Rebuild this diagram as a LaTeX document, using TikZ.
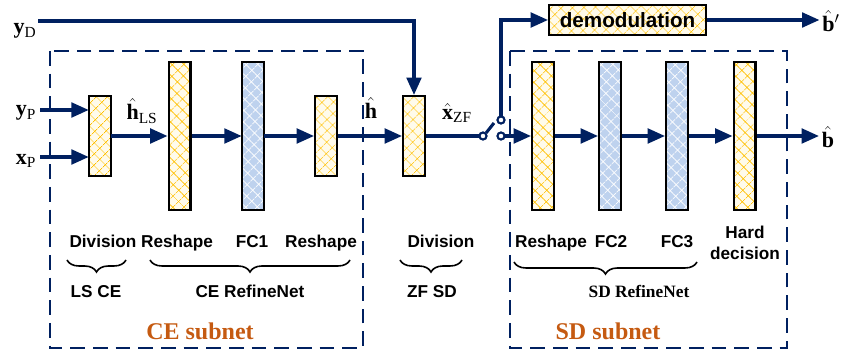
\documentclass[tikz,border=0pt]{standalone}
\usepackage{amsmath}
\usepackage{fontspec}
\setmainfont{Liberation Serif}
\setsansfont{Liberation Sans}
\usetikzlibrary{arrows.meta, patterns.meta, decorations.pathreplacing, positioning}
\definecolor{navy}{RGB}{0,32,96}
\definecolor{subnetorange}{RGB}{197,90,17}
\definecolor{yhatch}{RGB}{255,192,0}
\definecolor{yback}{RGB}{255,251,235}
\definecolor{bback}{RGB}{190,210,238}
\tikzset{
>={Triangle[length=13pt,width=11pt]}, % big filled arrow heads
wire/.style={draw=navy, line width=2.3pt}, % plain connector
link/.style={wire, ->}, % connector with arrow
layer/.style={draw=black, line width=1.6pt, minimum width=16.4pt, inner sep=0pt}, % one network layer
ylayer/.style={layer, preaction={fill=yback}, pattern={Hatch[angle=45,distance=6.5pt,line width=0.5pt]}, pattern color=yhatch},
blayer/.style={layer, preaction={fill=bback}, pattern={Hatch[angle=45,distance=6.5pt,line width=0.6pt]}, pattern color=white},
tall/.style={minimum height=111.6pt}, % long layers
short/.style={minimum height=60pt}, % short layers
pin/.style={circle, draw=navy, line width=1.5pt, fill=white, minimum size=5.2pt, inner sep=0pt}, % switch contacts
subnet/.style={draw=navy, line width=1.5pt, dash pattern=on 11pt off 6pt}, % dashed frames
lbl/.style={font=\fontsize{12.9}{15.5}\selectfont\sffamily\bfseries, inner sep=0pt},
mlbl/.style={font=\fontsize{16.5}{18}\selectfont, inner sep=0pt},
brc/.style={draw=black, line width=1.2pt, decorate, decoration={brace, mirror, amplitude=9pt}},
}

\begin{document}
\begin{tikzpicture}[x=0.75pt, y=-0.75pt]
    \useasboundingbox (0,0) rectangle (844,352);

    % subnet frames
    \draw[subnet] (50,51) rectangle (363,348);
    \draw[subnet] (510,51) rectangle (787,348);

    % layers
    \node[ylayer, short] (lsdiv) at (100,136) {};
    \node[ylayer, tall] (res1) at (179.5,136) {};
    \node[blayer, tall] (fc1) at (253,136) {};
    \node[ylayer, short] (res2) at (326,136) {};
    \node[ylayer, short] (zfdiv) at (414,136) {};
    \node[ylayer, tall] (sdres) at (543,136) {};
    \node[blayer, tall] (fc2) at (610,136) {};
    \node[blayer, tall] (fc3) at (677,136) {};
    \node[ylayer, tall] (hard) at (744.5,136) {};
    \node[ylayer, minimum width=117.6pt, minimum height=22.4pt, font=\fontsize{15.5}{18}\selectfont\sffamily\bfseries] (demod) at (627.5,20) {demodulation};

    % signal labels
    \node[mlbl] (ydlbl) at (25,31) {$\mathbf{y}_{\mathrm{D}}$};
    \node[mlbl] (yplbl) at (26,113) {$\mathbf{y}_{\mathrm{P}}$};
    \node[mlbl] (xplbl) at (26,161) {$\mathbf{x}_{\mathrm{P}}$};
    \node[mlbl] (hlslbl) at (142,111) {$\hat{\mathbf{h}}_{\mathrm{LS}}$};
    \node[mlbl] (hlbl) at (371,108) {$\hat{\mathbf{h}}$};
    \node[mlbl] (xzflbl) at (457,113) {$\hat{\mathbf{x}}_{\mathrm{ZF}}$};
    \node[mlbl, inner sep=2pt] (bplbl) at (831,21) {$\hat{\mathbf{b}}'$};
    \node[mlbl, inner sep=2pt] (blbl) at (828,137) {$\hat{\mathbf{b}}$};

    \coordinate (yd) at (38,21);
    \coordinate (yp) at (40,110);
    \coordinate (xp) at (40,157);
    \coordinate (blade) at (494,123);

    % switch contacts
    \node[pin] (swa) at (483,136) {};
    \node[pin] (swb) at (501,120) {};
    \node[pin] (swc) at (501,136) {};

    \draw[link] (yd) -| (zfdiv.north);
    \draw[link] (yp) -- (lsdiv.west |- yp);
    \draw[link] (xp) -- (lsdiv.west |- xp);
    \draw[link] (lsdiv) -- (res1);
    \draw[link] (res1) -- (fc1);
    \draw[link] (fc1) -- (res2);
    \draw[link] (res2) -- (zfdiv);
    \draw[wire] (zfdiv) -- (swa);
    \draw[wire] (swa.north east) -- (blade);
    \draw[link] (swb.north) |- (demod.west);
    \draw[link] (swc) -- (sdres);
    \draw[link] (sdres) -- (fc2);
    \draw[link] (fc2) -- (fc3);
    \draw[link] (fc3) -- (hard);
    \draw[link] (demod) -- (demod -| bplbl.west);
    \draw[link] (hard) -- (hard -| blbl.west);

    % redraw contacts on top
    \node[pin] at (swa) {};
    \node[pin] at (swb) {};
    \node[pin] at (swc) {};

    % layer names
    \node[lbl, anchor=base] (t1) at (103,248) {Division};
    \node[lbl, anchor=base] (t2) at (177,248) {Reshape};
    \node[lbl, anchor=base] (t3) at (252,248) {FC1};
    \node[lbl, anchor=base] (t4) at (321,248) {Reshape};
    \node[lbl, anchor=base] (t5) at (441,248) {Division};
    \node[lbl, anchor=base] (t6) at (551,248) {Reshape};
    \node[lbl, anchor=base] (t7) at (611,248) {FC2};
    \node[lbl, anchor=base] (t8) at (677,248) {FC3};
    \node[lbl, align=center, font=\fontsize{12.9}{15.8}\selectfont\sffamily\bfseries] (t9) at (745,243) {Hard\\decision};

    % braces
    \draw[brc] (67,260) -- (126,260);
    \draw[brc] (150,260) -- (350,260);
    \draw[brc] (400,260) -- (462,260);
    \draw[brc] (514,262) -- (697,262);
    \node[lbl, anchor=base] (g1) at (96,298) {LS CE};
    \node[lbl, anchor=base] (g2) at (250,298) {CE RefineNet};
    \node[lbl, anchor=base] (g3) at (432,298) {ZF SD};
    \node[anchor=base, inner sep=0pt, font=\fontsize{13}{15}\selectfont\bfseries] (g4) at (639,298) {SD RefineNet};

    % subnet names
    \node[anchor=base, inner sep=0pt, text=subnetorange, font=\fontsize{18}{20}\selectfont\bfseries] (cesub) at (200,340) {CE subnet};
    \node[anchor=base, inner sep=0pt, text=subnetorange, font=\fontsize{18}{20}\selectfont\bfseries] (sdsub) at (608,340) {SD subnet};
\end{tikzpicture}
\end{document}
